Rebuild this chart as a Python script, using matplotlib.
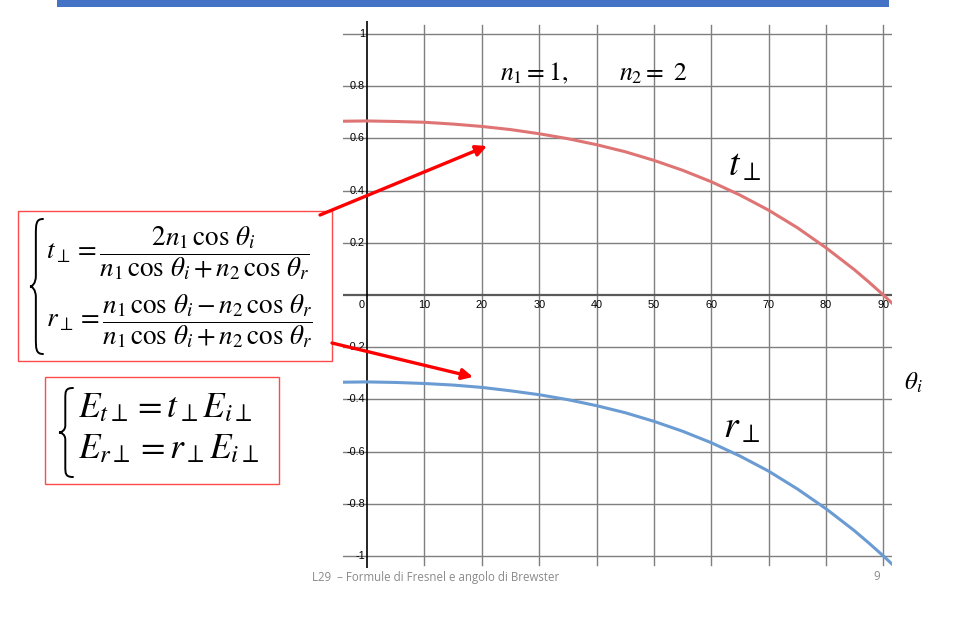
import matplotlib

matplotlib.use("Agg")
import matplotlib.pyplot as plt
from matplotlib.path import Path
from matplotlib.patches import PathPatch, Rectangle, FancyArrowPatch

plt.rcParams["mathtext.fontset"] = "stix"

# ---------------------------------------------------------------------------
# data (n1 = 1, n2 = 2)
theta_i = [-4, 0, 5, 10, 15, 20, 25, 30, 35, 40, 45, 50, 55, 60, 65, 70, 75,
           80, 85, 87.5, 90, 91.5]
t_perp = [0.666, 0.667, 0.665, 0.662, 0.655, 0.646, 0.634, 0.618, 0.599,
          0.576, 0.549, 0.516, 0.478, 0.434, 0.383, 0.325, 0.258, 0.181,
          0.096, 0.049, 0.0, -0.031]
r_perp = [-0.334, -0.333, -0.335, -0.339, -0.345, -0.354, -0.367, -0.382,
          -0.401, -0.424, -0.451, -0.484, -0.522, -0.566, -0.617, -0.675,
          -0.743, -0.819, -0.904, -0.951, -1.0, -1.031]

x_ticks = [0, 10, 20, 30, 40, 50, 60, 70, 80, 90]
y_ticks = [-1, -0.8, -0.6, -0.4, -0.2, 0, 0.2, 0.4, 0.6, 0.8, 1]
y_labels = ["-1", "-0.8", "-0.6", "-0.4", "-0.2", "", "0.2", "0.4", "0.6",
            "0.8", "1"]

W, H = 964, 622
fig = plt.figure(figsize=(W / 100, H / 100), dpi=100)

# ---------------------------------------------------------------------------
# chart
ax = fig.add_axes([343 / W, 1 - 568 / H, (892 - 343) / W, (568 - 21) / H])
ax.set_xlim(-4.2, 91.5)
ax.set_ylim(-1.046, 1.05)
ax.axis("off")

for x in x_ticks:
    if x == 0:
        continue
    ax.plot([x, x], [-1.034, 1.034], color="#7f7f7f", lw=1.0, zorder=1)
for y, lab in zip(y_ticks, y_labels):
    if y == 0:
        ax.plot([-4.2, 91.5], [0, 0], color="#5a5a5a", lw=1.6, zorder=1)
        continue
    ax.plot([-4.2, 91.5], [y, y], color="#7f7f7f", lw=1.0, zorder=1)
    ax.text(-0.4, y, lab, ha="right", va="center", fontsize=7.8,
            family="Liberation Sans", zorder=3)
ax.plot([0, 0], [-1.046, 1.05], color="black", lw=1.2, zorder=2)

for x in x_ticks:
    ax.text(-1.0 if x == 0 else x, -0.02, str(x), ha="center", va="top",
            fontsize=7.8, family="Liberation Sans", zorder=3)

ax.plot(theta_i, t_perp, color="#df7474", lw=2.2, zorder=4)
ax.plot(theta_i, r_perp, color="#6a9bd2", lw=2.2, zorder=4)

# ---------------------------------------------------------------------------
# overlay in pixel coordinates
ov = fig.add_axes([0, 0, 1, 1], zorder=5)
ov.set_xlim(0, W)
ov.set_ylim(H, 0)
ov.axis("off")
ov.patch.set_visible(False)

ov.add_patch(Rectangle((57, 0), 832, 7, color="#4472c4", lw=0))

ov.text(500, 80, r"$n_1 = 1,$", fontsize=18.5, va="baseline")
ov.text(619, 80, r"$n_2{=}\ 2$", fontsize=18.5, va="baseline")
ov.text(728, 176, r"$t_\perp$", fontsize=27, va="baseline")
ov.text(723, 438, r"$r_\perp$", fontsize=27, va="baseline")
ov.text(904, 390, r"$\theta_i$", fontsize=18, va="baseline")


def brace(x_tip, y_top, y_bot, w, lw=1.4):
    h = y_bot - y_top
    ym = (y_top + y_bot) / 2
    xr = x_tip + w
    xm = x_tip + w * 0.45
    verts = [
        (xr, y_top),
        (xm, y_top), (xm, y_top + h * 0.04), (xm, y_top + h * 0.12),
        (xm, ym - h * 0.08),
        (xm, ym - h * 0.02), (x_tip + w * 0.15, ym), (x_tip, ym),
        (x_tip + w * 0.15, ym), (xm, ym + h * 0.02), (xm, ym + h * 0.08),
        (xm, y_bot - h * 0.12),
        (xm, y_bot - h * 0.04), (xm, y_bot), (xr, y_bot),
    ]
    codes = [Path.MOVETO,
             Path.CURVE4, Path.CURVE4, Path.CURVE4,
             Path.LINETO,
             Path.CURVE4, Path.CURVE4, Path.CURVE4,
             Path.CURVE4, Path.CURVE4, Path.CURVE4,
             Path.LINETO,
             Path.CURVE4, Path.CURVE4, Path.CURVE4]
    ov.add_patch(PathPatch(Path(verts, codes), fill=False, color="black",
                           lw=lw, capstyle="round"))


# formula box 1
ov.add_patch(Rectangle((18, 211), 314, 150, fill=False, ec="#ff4a4a", lw=1.0))
brace(30, 219, 354, 13)
ov.text(46, 253, r"$t_\perp = \dfrac{2n_1\,\cos\,\theta_i}"
        r"{n_1\,\cos\,\theta_i + n_2\,\cos\,\theta_r}$",
        fontsize=19.5, va="center", ha="left")
ov.text(46, 321, r"$r_\perp = \dfrac{n_1\,\cos\,\theta_i - n_2\,\cos\,\theta_r}"
        r"{n_1\,\cos\,\theta_i + n_2\,\cos\,\theta_r}$",
        fontsize=19.5, va="center", ha="left")

# formula box 2
ov.add_patch(Rectangle((45, 377), 234, 107, fill=False, ec="#ff4a4a", lw=1.0))
brace(59, 388, 477, 14)
ov.text(78, 417, r"$E_{t\perp} = t_\perp E_{i\perp}$", fontsize=25.5,
        va="baseline")
ov.text(78, 458, r"$E_{r\perp} = r_\perp E_{i\perp}$", fontsize=25.5,
        va="baseline")

# arrows
for start, end in [((320, 215), (487, 146)), ((332, 343), (473, 377))]:
    ov.add_patch(FancyArrowPatch(start, end, arrowstyle="-|>",
                                 mutation_scale=16, color="#ff0000", lw=2.4,
                                 shrinkA=0, shrinkB=0))

# footer
ov.text(312, 577, "L29  \u2013 Formule di Fresnel e angolo di Brewster",
        fontsize=8.3, color="#8a8a8a", family="Open Sans", va="center")
ov.text(877, 577, "9", fontsize=8.3, color="#8a8a8a", family="Open Sans",
        va="center", ha="center")

fig.savefig("out.png", dpi=100)
